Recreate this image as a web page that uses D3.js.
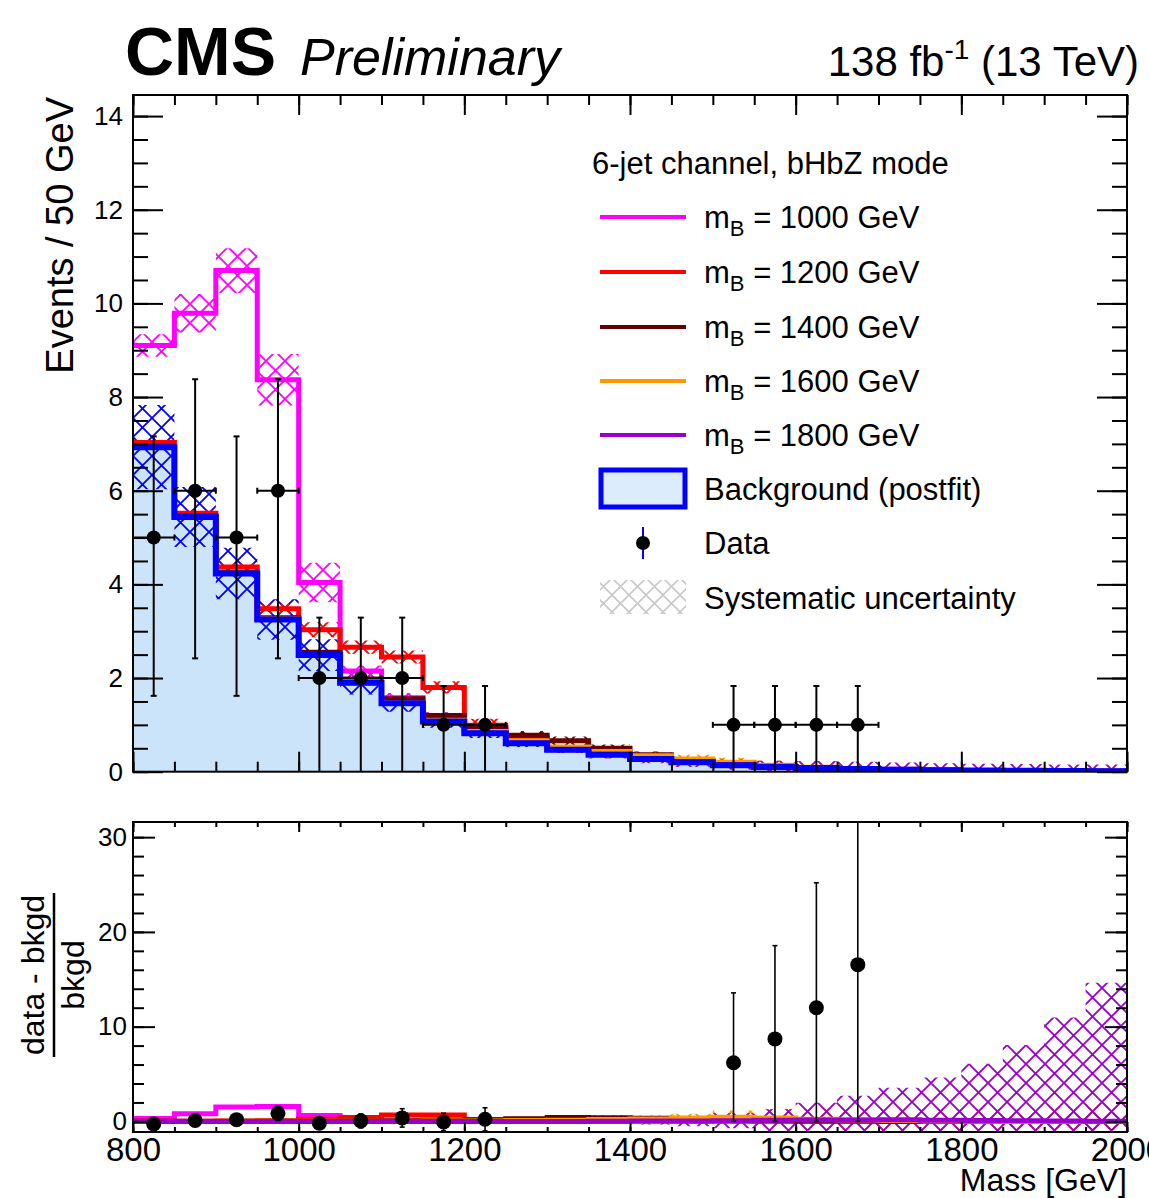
<!DOCTYPE html>
<html>
<head>
<meta charset="utf-8">
<script src="https://cdn.jsdelivr.net/npm/d3@7"></script>
<style>
  html, body { margin: 0; padding: 0; background: #fff; }
  svg { display: block; }
  text { font-family: "Liberation Sans", Arial, Helvetica, sans-serif; fill: #000; }
</style>
</head>
<body>
<svg id="chart" width="1149" height="1198"></svg>
<script>
// ---------------- values ----------------
// lower edges of the 50 GeV mass bins
const binLow = [800, 850, 900, 950, 1000, 1050, 1100, 1150, 1200, 1250, 1300, 1350,
                1400, 1450, 1500, 1550, 1600, 1650, 1700, 1750, 1800, 1850, 1900, 1950];
const binWidth = 50;
const massMax = 2000;

// postfit background and its systematic uncertainty (events / bin)
const background = [6.93, 5.44, 4.23, 3.25, 2.49, 1.90, 1.46, 1.07, 0.82, 0.61, 0.47, 0.36,
                    0.27, 0.20, 0.139, 0.103, 0.077, 0.057, 0.043, 0.032, 0.024, 0.018, 0.013, 0.010];
const backgroundUnc = [0.90, 0.64, 0.55, 0.43, 0.34, 0.25, 0.18, 0.13, 0.10, 0.08, 0.06, 0.05,
                       0.04, 0.03, 0.02, 0.015, 0.01, 0.008, 0.006, 0.005, 0.004, 0.003, 0.002, 0.002];

// signal + background for each B mass hypothesis
const sb1000 = [9.10, 9.79, 10.70, 8.37, 4.04, 2.15, 1.58, 1.19, 0.90, 0.64, 0.49, 0.37,
                0.28, 0.21, 0.145, 0.107, 0.080, 0.059, 0.044, 0.033, 0.025, 0.018, 0.013, 0.010];
const sb1200 = [7.03, 5.52, 4.37, 3.48, 3.03, 2.66, 2.45, 1.80, 0.99, 0.72, 0.50, 0.38,
                0.285, 0.21, 0.145, 0.107, 0.080, 0.059, 0.044, 0.033, 0.025, 0.018, 0.013, 0.010];
const sb1400 = [6.95, 5.46, 4.26, 3.29, 2.55, 1.98, 1.56, 1.20, 0.94, 0.78, 0.66, 0.50,
                0.36, 0.24, 0.16, 0.11, 0.080, 0.059, 0.044, 0.033, 0.025, 0.018, 0.013, 0.010];
const sb1600 = [6.93, 5.44, 4.24, 3.26, 2.50, 1.92, 1.48, 1.10, 0.86, 0.66, 0.53, 0.43,
                0.34, 0.27, 0.20, 0.14, 0.095, 0.065, 0.047, 0.034, 0.025, 0.018, 0.013, 0.010];
const sb1800 = [6.93, 5.44, 4.23, 3.25, 2.49, 1.90, 1.46, 1.07, 0.82, 0.61, 0.47, 0.37,
                0.28, 0.21, 0.150, 0.115, 0.088, 0.066, 0.050, 0.036, 0.026, 0.019, 0.0135, 0.0102];

// systematic uncertainty on each signal + background prediction
const unc1000 = [0.24, 0.41, 0.48, 0.55, 0.42, 0.12, 0.10, 0.08, 0.05, 0.03, 0.02, 0.02,
                 0.01, 0.01, 0.01, 0.01, 0.01, 0.01, 0.01, 0.01, 0.01, 0.01, 0.01, 0.01];
const unc1200 = [0.05, 0.06, 0.08, 0.10, 0.16, 0.14, 0.14, 0.13, 0.14, 0.08, 0.05, 0.03,
                 0.02, 0.02, 0.01, 0.01, 0.01, 0.01, 0.01, 0.01, 0.01, 0.01, 0.01, 0.01];
const unc1400 = [0.02, 0.02, 0.02, 0.03, 0.03, 0.04, 0.05, 0.06, 0.08, 0.09, 0.09, 0.08,
                 0.07, 0.05, 0.04, 0.03, 0.02, 0.02, 0.01, 0.01, 0.01, 0.01, 0.01, 0.01];
const unc1600 = [0.0, 0.0, 0.0, 0.01, 0.01, 0.01, 0.02, 0.02, 0.03, 0.03, 0.04, 0.05,
                 0.07, 0.09, 0.10, 0.10, 0.09, 0.07, 0.05, 0.04, 0.03, 0.02, 0.02, 0.02];
const unc1800 = [0.0, 0.0, 0.0, 0.0, 0.0, 0.0, 0.0, 0.0, 0.02, 0.04, 0.07, 0.09,
                 0.10, 0.11, 0.11, 0.12, 0.14, 0.145, 0.146, 0.144, 0.144, 0.144, 0.142, 0.146];

const signalLabels = ["1000", "1200", "1400", "1600", "1800"];
const signalColors = ["#ff00ff", "#ff0000", "#660000", "#ff9900", "#9900cc"];
const signalTotals = [sb1000, sb1200, sb1400, sb1600, sb1800];
const signalUncs = [unc1000, unc1200, unc1400, unc1600, unc1800];

// observed data (bin centres, counts, asymmetric errors)
const dataMass = [825, 875, 925, 975, 1025, 1075, 1125, 1175, 1225, 1525, 1575, 1625, 1675];
const dataCounts = [5, 6, 5, 6, 2, 2, 2, 1, 1, 1, 1, 1, 1];
const dataErrUp = [2.16, 2.38, 2.16, 2.38, 1.29, 1.29, 1.29, 0.83, 0.83, 0.83, 0.83, 0.83, 0.83];
const dataErrDown = [3.38, 3.58, 3.38, 3.58, 2.64, 2.64, 2.64, 2.30, 2.30, 2.30, 2.30, 2.30, 2.30];
// errors on (data - bkgd)/bkgd
const ratioErrUp = [0.32, 0.45, 0.53, 0.75, 0.57, 0.74, 0.97, 0.93, 1.22, 7.37, 9.84, 13.2, 17.5];
const ratioErrDown = [0.32, 0.45, 0.53, 0.75, 0.57, 0.74, 0.97, 0.93, 1.22, 6.19, 8.71, 11.99, 16.54];

// axis ticks
const massTicks = [800, 1000, 1200, 1400, 1600, 1800, 2000];
const eventTicks = [0, 2, 4, 6, 8, 10, 12, 14];
const ratioTicks = [0, 10, 20, 30];

// ---------------- layout ----------------
const L = 133, R = 1127;
const top1 = 95, bot1 = 771.7;
const top2 = 822, bot2 = 1132;
const FONT = '"Liberation Sans", Arial, Helvetica, sans-serif';

const svg = d3.select("#chart");
svg.append("rect").attr("width", 1149).attr("height", 1198).attr("fill", "#fff");

const x = d3.scaleLinear().domain([800, massMax]).range([L, R]);
const yEv = d3.scaleLinear().domain([0, 14.45]).range([bot1, top1]);
const yRat = d3.scaleLinear().domain([-1.12, 31.6]).range([bot2, top2]);

const defs = svg.append("defs");

// cross-hatch fill patterns (diamond lattice of period P)
function crossHatch(id, color, P, w) {
  const p = defs.append("pattern").attr("id", id)
    .attr("patternUnits", "userSpaceOnUse").attr("width", P).attr("height", P);
  let d = "";
  for (const c of [-P, 0, P]) d += `M${-P},${-P + c}L${2 * P},${2 * P + c}`;
  for (const c of [0, P, 2 * P]) d += `M${-P},${c + P}L${2 * P},${c - 2 * P}`;
  p.append("path").attr("d", d).attr("stroke", color).attr("stroke-width", w).attr("fill", "none");
}
crossHatch("hatch-bkg", "#0000ff", 19, 1.8);
signalColors.forEach((c, i) => crossHatch("hatch-s" + i, c, 19, 1.8));
crossHatch("hatch-leg", "#c8c8c8", 17, 1.6);

defs.append("clipPath").attr("id", "clip-top").append("rect")
  .attr("x", L).attr("y", top1).attr("width", R - L).attr("height", bot1 - top1);
defs.append("clipPath").attr("id", "clip-rat").append("rect")
  .attr("x", L).attr("y", top2).attr("width", R - L).attr("height", bot2 - top2);

// histogram helpers
function stepPoints(vals, unc) {
  const pts = binLow.map((e, i) => ({ m: e, v: vals[i], u: unc ? unc[i] : 0 }));
  pts.push({ m: massMax, v: vals[vals.length - 1], u: unc ? unc[unc.length - 1] : 0 });
  return pts;
}
const stepLine = (ys) => d3.line().x(d => x(d.m)).y(d => ys(d.v)).curve(d3.curveStepAfter);
const stepBand = (ys) => d3.area().x(d => x(d.m)).y0(d => ys(d.v - d.u)).y1(d => ys(d.v + d.u)).curve(d3.curveStepAfter);

// ---------------- upper panel ----------------
const gTop = svg.append("g").attr("clip-path", "url(#clip-top)");

gTop.append("path")
  .datum(stepPoints(background))
  .attr("d", d3.area().x(d => x(d.m)).y0(yEv(0)).y1(d => yEv(d.v)).curve(d3.curveStepAfter))
  .attr("fill", "#cce4fa");

gTop.append("path").datum(stepPoints(background, backgroundUnc))
  .attr("d", stepBand(yEv)).attr("fill", "url(#hatch-bkg)");
signalTotals.forEach((s, i) => {
  gTop.append("path").datum(stepPoints(s, signalUncs[i]))
    .attr("d", stepBand(yEv)).attr("fill", `url(#hatch-s${i})`);
});
signalTotals.forEach((s, i) => {
  gTop.append("path").datum(stepPoints(s))
    .attr("d", stepLine(yEv)).attr("fill", "none")
    .attr("stroke", signalColors[i]).attr("stroke-width", 5);
});
gTop.append("path").datum(stepPoints(background))
  .attr("d", stepLine(yEv)).attr("fill", "none")
  .attr("stroke", "#0000ff").attr("stroke-width", 6);

// data points with error bars
const dataPts = dataMass.map((m, i) => ({
  m, n: dataCounts[i], up: dataErrUp[i], dn: dataErrDown[i],
  rUp: ratioErrUp[i], rDn: ratioErrDown[i],
  b: background[binLow.indexOf(m - binWidth / 2)]
}));
const gData = gTop.append("g").attr("stroke", "#000").attr("stroke-width", 2);
dataPts.forEach(d => {
  const cx = x(d.m), cy = yEv(d.n);
  const y1 = yEv(d.n + d.up), y2 = yEv(d.n - d.dn);
  const xa = x(d.m - binWidth / 2), xb = x(d.m + binWidth / 2);
  gData.append("line").attr("x1", cx).attr("x2", cx).attr("y1", y1).attr("y2", y2);
  gData.append("line").attr("x1", cx - 3).attr("x2", cx + 3).attr("y1", y1).attr("y2", y1);
  gData.append("line").attr("x1", cx - 3).attr("x2", cx + 3).attr("y1", y2).attr("y2", y2);
  gData.append("line").attr("x1", xa).attr("x2", xb).attr("y1", cy).attr("y2", cy);
  gData.append("line").attr("x1", xa).attr("x2", xa).attr("y1", cy - 3).attr("y2", cy + 3);
  gData.append("line").attr("x1", xb).attr("x2", xb).attr("y1", cy - 3).attr("y2", cy + 3);
});
gTop.append("g").selectAll("circle").data(dataPts).join("circle")
  .attr("cx", d => x(d.m)).attr("cy", d => yEv(d.n)).attr("r", 7).attr("fill", "#000");

// ---------------- ratio panel ----------------
const gRat = svg.append("g").attr("clip-path", "url(#clip-rat)");
const ratioOf = (s) => s.map((v, i) => (v - background[i]) / background[i]);
const ratioUnc = (u) => u.map((v, i) => v / background[i]);

signalTotals.forEach((s, i) => {
  gRat.append("path").datum(stepPoints(ratioOf(s), ratioUnc(signalUncs[i])))
    .attr("d", stepBand(yRat)).attr("fill", `url(#hatch-s${i})`);
});
signalTotals.forEach((s, i) => {
  gRat.append("path").datum(stepPoints(ratioOf(s)))
    .attr("d", stepLine(yRat)).attr("fill", "none")
    .attr("stroke", signalColors[i]).attr("stroke-width", 5);
});
const gRatData = gRat.append("g").attr("stroke", "#000").attr("stroke-width", 1.6);
dataPts.forEach(d => {
  const r = (d.n - d.b) / d.b;
  const cx = x(d.m);
  const y1 = yRat(r + d.rUp), y2 = yRat(r - d.rDn);
  gRatData.append("line").attr("x1", cx).attr("x2", cx).attr("y1", y1).attr("y2", y2);
  gRatData.append("line").attr("x1", cx - 2.5).attr("x2", cx + 2.5).attr("y1", y1).attr("y2", y1);
  gRatData.append("line").attr("x1", cx - 2.5).attr("x2", cx + 2.5).attr("y1", y2).attr("y2", y2);
});
gRat.append("g").selectAll("circle").data(dataPts).join("circle")
  .attr("cx", d => x(d.m)).attr("cy", d => yRat((d.n - d.b) / d.b)).attr("r", 7.5).attr("fill", "#000");

// ---------------- frames and axes ----------------
function styleAxis(g, size) {
  g.select(".domain").remove();
  g.selectAll(".tick line").attr("stroke", "#000").attr("stroke-width", 2);
  g.attr("font-family", FONT).attr("font-size", size);
  g.selectAll(".tick text").attr("fill", "#000");
}
const noLabel = () => "";
const minorMass = d3.range(800, massMax + 1, 50);

// upper panel axes
svg.append("g").attr("transform", `translate(${L},0)`)
  .call(d3.axisLeft(yEv).tickValues(eventTicks).tickSize(-30).tickPadding(10).tickFormat(d3.format("d")))
  .call(g => styleAxis(g, 26));
svg.append("g").attr("transform", `translate(${L},0)`)
  .call(d3.axisLeft(yEv).tickValues(d3.range(0, 14.45, 0.5)).tickSize(-15).tickFormat(noLabel))
  .call(g => styleAxis(g, 26));
svg.append("g").attr("transform", `translate(${R},0)`)
  .call(d3.axisRight(yEv).tickValues(eventTicks).tickSize(-30).tickFormat(noLabel))
  .call(g => styleAxis(g, 26));
svg.append("g").attr("transform", `translate(${R},0)`)
  .call(d3.axisRight(yEv).tickValues(d3.range(0, 14.45, 0.5)).tickSize(-15).tickFormat(noLabel))
  .call(g => styleAxis(g, 26));
[[bot1, d3.axisBottom], [top1, d3.axisTop]].forEach(([yy, ax]) => {
  svg.append("g").attr("transform", `translate(0,${yy})`)
    .call(ax(x).tickValues(massTicks).tickSize(-20).tickFormat(noLabel)).call(g => styleAxis(g, 26));
  svg.append("g").attr("transform", `translate(0,${yy})`)
    .call(ax(x).tickValues(minorMass).tickSize(-10).tickFormat(noLabel)).call(g => styleAxis(g, 26));
});
svg.append("rect").attr("x", L).attr("y", top1).attr("width", R - L).attr("height", bot1 - top1)
  .attr("fill", "none").attr("stroke", "#000").attr("stroke-width", 2);

// ratio panel axes
const minorRatio = d3.range(0, 31.6, 2);
svg.append("g").attr("transform", `translate(${L},0)`)
  .call(d3.axisLeft(yRat).tickValues(ratioTicks).tickSize(-22).tickPadding(6).tickFormat(d3.format("d")))
  .call(g => styleAxis(g, 26));
svg.append("g").attr("transform", `translate(${L},0)`)
  .call(d3.axisLeft(yRat).tickValues(minorRatio).tickSize(-11).tickFormat(noLabel))
  .call(g => styleAxis(g, 26));
svg.append("g").attr("transform", `translate(${R},0)`)
  .call(d3.axisRight(yRat).tickValues(ratioTicks).tickSize(-22).tickFormat(noLabel))
  .call(g => styleAxis(g, 26));
svg.append("g").attr("transform", `translate(${R},0)`)
  .call(d3.axisRight(yRat).tickValues(minorRatio).tickSize(-11).tickFormat(noLabel))
  .call(g => styleAxis(g, 26));
svg.append("g").attr("transform", `translate(0,${bot2})`)
  .call(d3.axisBottom(x).tickValues(massTicks).tickSize(-10).tickPadding(6).tickFormat(d3.format("d")))
  .call(g => styleAxis(g, 33));
svg.append("g").attr("transform", `translate(0,${bot2})`)
  .call(d3.axisBottom(x).tickValues(minorMass).tickSize(-5).tickFormat(noLabel))
  .call(g => styleAxis(g, 33));
svg.append("g").attr("transform", `translate(0,${top2})`)
  .call(d3.axisTop(x).tickValues(massTicks).tickSize(-10).tickFormat(noLabel))
  .call(g => styleAxis(g, 33));
svg.append("g").attr("transform", `translate(0,${top2})`)
  .call(d3.axisTop(x).tickValues(minorMass).tickSize(-5).tickFormat(noLabel))
  .call(g => styleAxis(g, 33));
svg.append("rect").attr("x", L).attr("y", top2).attr("width", R - L).attr("height", bot2 - top2)
  .attr("fill", "none").attr("stroke", "#000").attr("stroke-width", 2);

// ---------------- titles ----------------
svg.append("text").attr("x", 125).attr("y", 75).attr("font-size", 68).attr("font-weight", "bold").text("CMS");
svg.append("text").attr("x", 300).attr("y", 75).attr("font-size", 52).attr("font-style", "italic").text("Preliminary");
const lumi = svg.append("text").attr("x", 1139).attr("y", 76).attr("font-size", 42).attr("text-anchor", "end");
lumi.append("tspan").text("138 fb");
lumi.append("tspan").attr("font-size", 28).attr("dy", -17).text("-1");
lumi.append("tspan").attr("dy", 17).text(" (13 TeV)");

svg.append("text").attr("transform", "translate(73,97) rotate(-90)")
  .attr("text-anchor", "end").attr("font-size", 38).text("Events / 50 GeV");

const frac = svg.append("g").attr("transform", "translate(0,975) rotate(-90)");
frac.append("text").attr("x", 0).attr("y", 44).attr("text-anchor", "middle").attr("font-size", 32).text("data - bkgd");
frac.append("line").attr("x1", -82).attr("x2", 82).attr("y1", 54).attr("y2", 54).attr("stroke", "#000").attr("stroke-width", 2.5);
frac.append("text").attr("x", 0).attr("y", 84).attr("text-anchor", "middle").attr("font-size", 32).text("bkgd");

svg.append("text").attr("x", R).attr("y", 1191).attr("text-anchor", "end").attr("font-size", 32).text("Mass [GeV]");

// ---------------- legend ----------------
const leg = svg.append("g").attr("font-size", 31);
leg.append("text").attr("x", 592).attr("y", 174).attr("font-size", 31).text("6-jet channel, bHbZ mode");
const rowY = [217, 272, 327, 381, 435, 489, 543, 598];
signalLabels.forEach((lab, i) => {
  const yy = rowY[i];
  leg.append("line").attr("x1", 600).attr("x2", 686).attr("y1", yy).attr("y2", yy)
    .attr("stroke", signalColors[i]).attr("stroke-width", 4);
  const t = leg.append("text").attr("x", 704).attr("y", yy + 11);
  t.append("tspan").text("m");
  t.append("tspan").attr("font-size", 22).attr("dy", 8).text("B");
  t.append("tspan").attr("dy", -8).text(` = ${lab} GeV`);
});
leg.append("rect").attr("x", 601).attr("y", 470).attr("width", 84).attr("height", 37)
  .attr("fill", "#ddecfc").attr("stroke", "#0000ff").attr("stroke-width", 5);
leg.append("text").attr("x", 704).attr("y", rowY[5] + 11).text("Background (postfit)");
leg.append("line").attr("x1", 643).attr("x2", 643).attr("y1", 527).attr("y2", 559)
  .attr("stroke", "#0000ff").attr("stroke-width", 2);
leg.append("circle").attr("cx", 643).attr("cy", 543).attr("r", 7).attr("fill", "#000");
leg.append("text").attr("x", 704).attr("y", rowY[6] + 11).text("Data");
leg.append("rect").attr("x", 600).attr("y", 580).attr("width", 86).attr("height", 34)
  .attr("fill", "url(#hatch-leg)");
leg.append("text").attr("x", 704).attr("y", rowY[7] + 11).text("Systematic uncertainty");
</script>
</body>
</html>
